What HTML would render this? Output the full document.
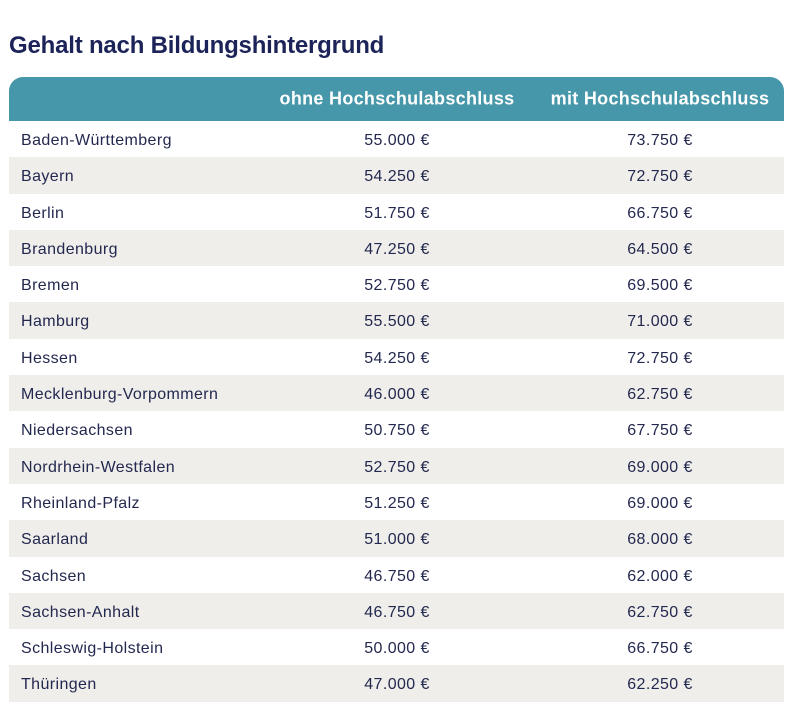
<!DOCTYPE html>
<html><head><meta charset="utf-8"><style>
body{margin:0;width:800px;height:722px;background:#fff;font-family:"Liberation Sans",sans-serif;color:#23284f;position:relative;overflow:hidden}
h1{position:absolute;left:9px;top:32px;margin:0;font-size:24px;font-weight:bold;color:#1c2358;letter-spacing:-0.2px}
.t{position:absolute;left:9px;top:77px;width:775px}
.h{height:44px;background:#4597a9;border-radius:14px 14px 0 0;position:relative;color:#fff;font-size:18px;font-weight:bold;letter-spacing:0.3px}
.r{height:36.3px;position:relative;font-size:16px;letter-spacing:0.4px}
.r:nth-child(even){background:#efeeeb}
.c1{position:absolute;left:12px;top:55%;transform:translateY(-50%)}
.c2{position:absolute;left:388px;top:55%;transform:translate(-50%,-50%);white-space:nowrap}
.c3{position:absolute;left:651px;top:55%;transform:translate(-50%,-50%);white-space:nowrap}
.h .c2,.h .c3{top:50%}
</style></head><body>
<h1>Gehalt nach Bildungshintergrund</h1>
<div class="t">
<div class="h"><span class="c2">ohne Hochschulabschluss</span><span class="c3">mit Hochschulabschluss</span></div>
<div>
<div class="r"><span class="c1">Baden-Württemberg</span><span class="c2">55.000 €</span><span class="c3">73.750 €</span></div>
<div class="r"><span class="c1">Bayern</span><span class="c2">54.250 €</span><span class="c3">72.750 €</span></div>
<div class="r"><span class="c1">Berlin</span><span class="c2">51.750 €</span><span class="c3">66.750 €</span></div>
<div class="r"><span class="c1">Brandenburg</span><span class="c2">47.250 €</span><span class="c3">64.500 €</span></div>
<div class="r"><span class="c1">Bremen</span><span class="c2">52.750 €</span><span class="c3">69.500 €</span></div>
<div class="r"><span class="c1">Hamburg</span><span class="c2">55.500 €</span><span class="c3">71.000 €</span></div>
<div class="r"><span class="c1">Hessen</span><span class="c2">54.250 €</span><span class="c3">72.750 €</span></div>
<div class="r"><span class="c1">Mecklenburg-Vorpommern</span><span class="c2">46.000 €</span><span class="c3">62.750 €</span></div>
<div class="r"><span class="c1">Niedersachsen</span><span class="c2">50.750 €</span><span class="c3">67.750 €</span></div>
<div class="r"><span class="c1">Nordrhein-Westfalen</span><span class="c2">52.750 €</span><span class="c3">69.000 €</span></div>
<div class="r"><span class="c1">Rheinland-Pfalz</span><span class="c2">51.250 €</span><span class="c3">69.000 €</span></div>
<div class="r"><span class="c1">Saarland</span><span class="c2">51.000 €</span><span class="c3">68.000 €</span></div>
<div class="r"><span class="c1">Sachsen</span><span class="c2">46.750 €</span><span class="c3">62.000 €</span></div>
<div class="r"><span class="c1">Sachsen-Anhalt</span><span class="c2">46.750 €</span><span class="c3">62.750 €</span></div>
<div class="r"><span class="c1">Schleswig-Holstein</span><span class="c2">50.000 €</span><span class="c3">66.750 €</span></div>
<div class="r"><span class="c1">Thüringen</span><span class="c2">47.000 €</span><span class="c3">62.250 €</span></div>
</div></div>
</body></html>
